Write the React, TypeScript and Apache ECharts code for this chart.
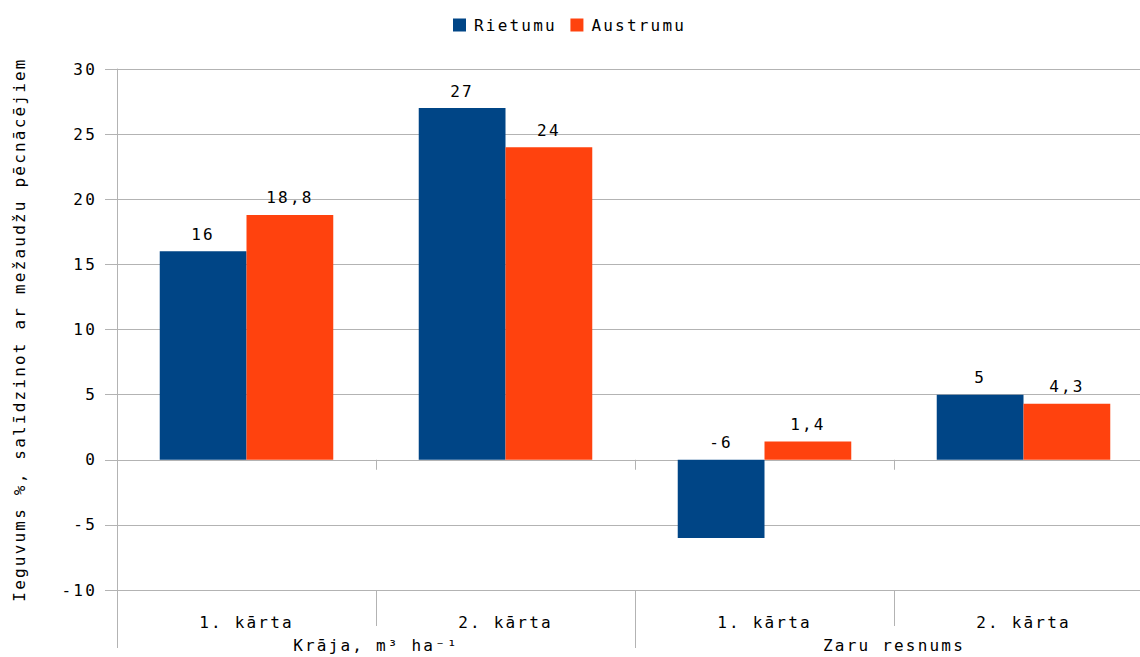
import React, { useEffect, useRef } from "react";
import * as echarts from "echarts";

const categories = ["1. kārta", "2. kārta", "1. kārta", "2. kārta"];
const groups = ["Krāja, m³ ha⁻¹", "Zaru resnums"];
const seriesNames = ["Rietumu", "Austrumu"];
const rietumu = [16, 27, -6, 5];
const austrumu = [18.8, 24, 1.4, 4.3];
const yTitle = "Ieguvums %, salīdzinot ar mežaudžu pēcnācējiem";

const FONT = "DejaVu Sans Mono";
const GRAY = "#b3b3b3";

export default function App() {
  const ref = useRef<HTMLDivElement>(null);
  useEffect(() => {
    if (!ref.current) return;
    const chart = echarts.init(ref.current, undefined, { renderer: "svg" });
    const textStyle = { fontFamily: FONT, fontSize: 16, color: "#000" };
    const labelFmt = (p: any) => String(p.value).replace(".", ",");
    chart.setOption({
      animation: false,
      textStyle,
      legend: {
        left: 448,
        top: 12,
        itemWidth: 13,
        itemHeight: 13,
        itemGap: 29,
        icon: "rect",
        textStyle: { ...textStyle, padding: [0, 0, 0, 3] },
        data: seriesNames,
      },
      grid: {
        left: 117,
        top: 69,
        width: 1036,
        height: 521,
        containLabel: false,
        outerBoundsMode: "none",
      },
      xAxis: [
        {
          type: "category",
          data: categories,
          position: "bottom",
          axisLine: { onZero: true, lineStyle: { color: GRAY, width: 1 } },
          axisTick: { show: true, length: 10, lineStyle: { color: GRAY } },
          axisLabel: { show: false },
          splitLine: { show: false },
        },
        {
          type: "category",
          data: categories,
          position: "bottom",
          axisLine: { show: false, onZero: false },
          axisTick: { show: true, length: 36, lineStyle: { color: GRAY } },
          axisLabel: { show: true, margin: 24, ...textStyle },
          splitLine: { show: false },
        },
        {
          type: "category",
          data: groups,
          position: "bottom",
          axisLine: { show: false, onZero: false },
          axisTick: { show: true, length: 58, lineStyle: { color: GRAY } },
          axisLabel: { show: true, margin: 47, ...textStyle },
          splitLine: { show: false },
        },
      ],
      yAxis: {
        type: "value",
        min: -10,
        max: 30,
        interval: 5,
        name: yTitle,
        nameLocation: "middle",
        nameRotate: 90,
        nameGap: 90,
        nameTextStyle: textStyle,
        axisLine: { show: true, lineStyle: { color: GRAY } },
        axisTick: { show: true, length: 12, lineStyle: { color: GRAY } },
        axisLabel: { margin: 20, ...textStyle },
        splitLine: { show: true, lineStyle: { color: GRAY } },
      },
      series: [
        {
          name: seriesNames[0],
          type: "bar",
          xAxisIndex: 0,
          data: rietumu,
          barGap: "0%",
          barCategoryGap: "33%",
          itemStyle: { color: "#004586" },
          label: { show: true, position: "top", distance: 9, formatter: labelFmt, ...textStyle },
        },
        {
          name: seriesNames[1],
          type: "bar",
          xAxisIndex: 0,
          data: austrumu,
          barGap: "0%",
          barCategoryGap: "33%",
          itemStyle: { color: "#ff420e" },
          label: { show: true, position: "top", distance: 9, formatter: labelFmt, ...textStyle },
        },
      ],
    });
    return () => chart.dispose();
  }, []);
  return (
    <div
      ref={ref}
      style={{
        position: "absolute",
        left: 0,
        top: 0,
        width: 1140,
        height: 657,
        letterSpacing: "2.2px",
        overflow: "hidden",
      }}
    />
  );
}
